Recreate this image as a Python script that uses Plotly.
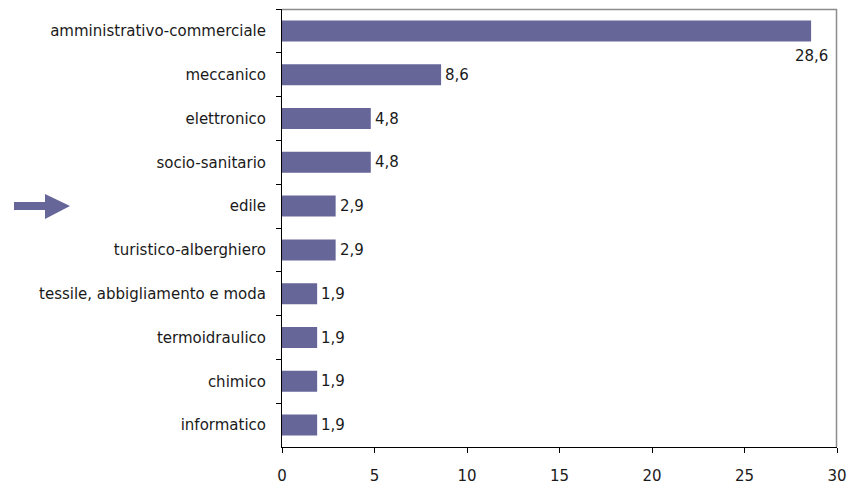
import plotly.graph_objects as go

categories = ["amministrativo-commerciale", "meccanico", "elettronico", "socio-sanitario",
              "edile", "turistico-alberghiero", "tessile, abbigliamento e moda",
              "termoidraulico", "chimico", "informatico"]
values = [28.6, 8.6, 4.8, 4.8, 2.9, 2.9, 1.9, 1.9, 1.9, 1.9]
x_ticks = [0, 5, 10, 15, 20, 25, 30]

BAR = "#666699"
FONT = "DejaVu Sans"
FS = 15

fig = go.Figure(go.Bar(
    x=values, y=categories, orientation="h",
    marker=dict(color=BAR, line=dict(width=0)),
    width=0.48, hoverinfo="skip"))

annotations = []
for c, v in zip(categories, values):
    t = f"{v:.1f}".replace(".", ",")
    if v > 25:
        annotations.append(dict(x=v, y=c, text=t, showarrow=False, xanchor="center",
                                yshift=-25, font=dict(family=FONT, size=FS, color="#1a1a1a")))
    else:
        annotations.append(dict(x=v, y=c, text=t, showarrow=False, xanchor="left",
                                xshift=2, font=dict(family=FONT, size=FS, color="#1a1a1a")))

L, R, T, B = 282, 837, 9, 447
W, H = R - L, B - T
def px(xp): return (xp - L) / W
def py(yp): return (B - yp) / H

arrow_path = "M {},{} L {},{} L {},{} L {},{} L {},{} L {},{} L {},{} Z".format(
    px(14), py(202), px(45), py(202), px(45), py(194), px(70), py(206),
    px(45), py(219), px(45), py(210), px(14), py(210))

GRAY = "#8c8c8c"
frame_path = "M {},{} L {},{} L {},{}".format(0, py(9.5), px(836.5), py(9.5), px(836.5), 0)
shapes = [
    dict(type="path", xref="paper", yref="paper", path=arrow_path,
         fillcolor=BAR, line=dict(width=0)),
    dict(type="path", xref="paper", yref="paper", path=frame_path,
         line=dict(color=GRAY, width=1.5)),
]

n = len(categories)
fig.update_layout(
    width=858, height=484,
    margin=dict(l=L, r=858 - R, t=T, b=484 - B, autoexpand=False),
    paper_bgcolor="white", plot_bgcolor="white",
    showlegend=False,
    font=dict(family=FONT, size=FS, color="#1a1a1a"),
    annotations=annotations, shapes=shapes,
    xaxis=dict(range=[0, 30], tickvals=x_ticks, ticktext=[str(t) for t in x_ticks],
               showgrid=False, zeroline=False, showline=True, linecolor="black",
               linewidth=1, ticks="outside", ticklen=5, tickcolor="black",
               ticklabelstandoff=10, automargin=False,
               tickfont=dict(family=FONT, size=FS, color="#1a1a1a")),
    yaxis=dict(categoryorder="array", categoryarray=categories,
               range=[n - 0.5, -0.5], autorange=False,
               showgrid=False, zeroline=False, showline=True, linecolor="black",
               linewidth=1, ticks="outside", ticklen=5, tickcolor="black",
               tickson="boundaries", ticklabelstandoff=12, automargin=False,
               tickfont=dict(family=FONT, size=FS, color="#1a1a1a")),
)

fig.write_html("out.html")
